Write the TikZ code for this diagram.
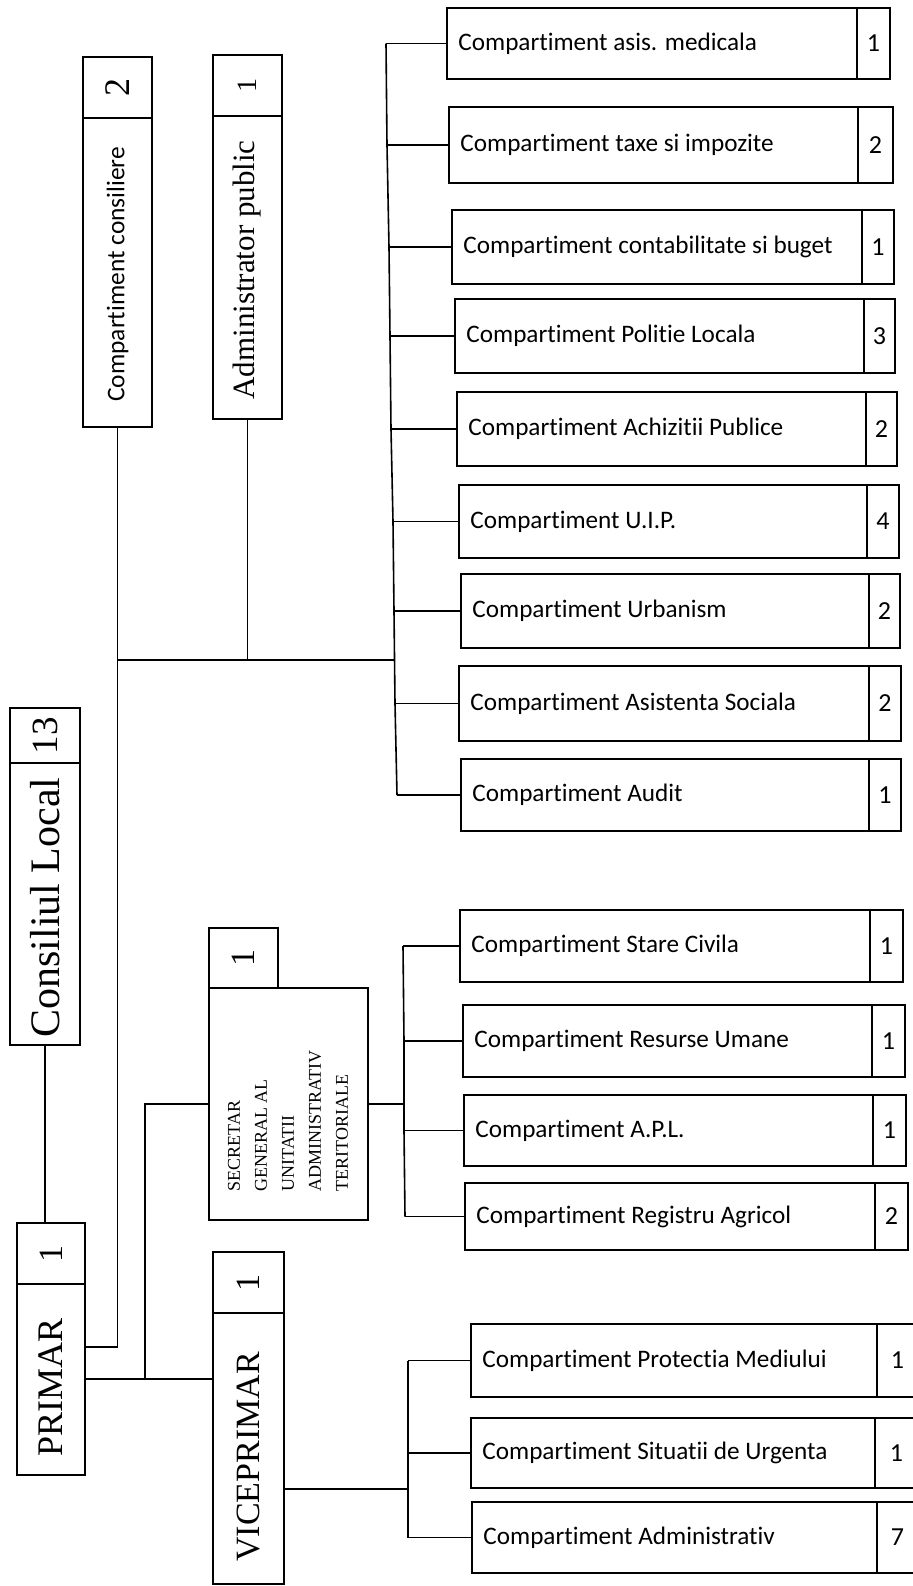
\documentclass[tikz,border=0pt]{standalone}
\usepackage{fontspec}
\setmainfont{Liberation Serif}
\newfontfamily\calib{Carlito}[Ligatures={NoCommon,NoRequired,NoContextual}]
\newcommand\rbox[9]{%
  \pgfmathsetmacro\wa{(#3-#2)*0.5}%
  \pgfmathsetmacro\wb{(#4-#3)*0.5}%
  \pgfmathsetmacro\hh{(#6-#5)*0.5}%
  \pgfmathsetmacro\cy{(#5+#6)/2}%
  \node[boxframe, minimum width=\wa pt, minimum height=\hh pt] (#1) at (#2,#5) {};
  \node[boxframe, minimum width=\wb pt, minimum height=\hh pt, anchor=north west] (#1n) at (#3,#5) {};
  \node[rnum] (#1nt) at (#1n.center) {#8};
  \node[rtext] (#1t) at ([xshift=5.5pt]#1.west) {#7};
  \coordinate (#1j) at (#9,\cy);
  \draw[conn] (#1j) -- (#1.west);
}
\begin{document}
\begin{tikzpicture}[x=0.5pt,y=-0.5pt,
  boxframe/.style={draw, line width=1pt, inner sep=0pt, outer sep=0pt, anchor=north west},
  conn/.style={line width=0.8pt},
  rtext/.style={font=\calib\fontsize{12.6}{15}\selectfont, inner sep=0pt, anchor=west},
  rnum/.style={font=\calib\fontsize{13}{15}\selectfont, inner sep=0pt},
  vtext/.style={rotate=90, anchor=west, inner sep=0pt},
  vnum/.style={rotate=90, inner sep=0pt},
]
\clip (0,0) rectangle (913,1586);
\fill[white] (0,0) rectangle (913,1586);

% ---- vertical boxes ----
% Compartiment consiliere
\node[boxframe, minimum width=34.5pt, minimum height=30.5pt] (consN) at (83,57) {};
\node[boxframe, minimum width=34.5pt, minimum height=154.5pt] (cons) at (83,118) {};
\node[vnum, font=\fontsize{18}{21}\selectfont] (consNt) at (consN.center) {2};
\node[vtext, font=\calib\fontsize{12.7}{15}\selectfont] (consT) at ([yshift=12.5pt]cons.south) {Compartiment consiliere};

% Administrator public
\node[boxframe, minimum width=34.5pt, minimum height=30.5pt] (admN) at (213,55) {};
\node[boxframe, minimum width=34.5pt, minimum height=151.5pt] (adm) at (213,116) {};
\node[vnum, font=\fontsize{14}{17}\selectfont] (admNt) at (admN.center) {1};
\node[vtext, font=\fontsize{15.5}{18}\selectfont] (admT) at ([yshift=9.5pt]adm.south) {Administrator public};

% Consiliul Local
\node[boxframe, minimum width=35pt, minimum height=27.5pt] (clN) at (10,708) {};
\node[boxframe, minimum width=35pt, minimum height=141pt] (cl) at (10,763) {};
\node[vnum, font=\fontsize{18.5}{21}\selectfont] (clNt) at (clN.center) {13};
\node[vtext, font=\fontsize{21}{24}\selectfont] (clT) at ([yshift=3.5pt]cl.south) {Consiliul Local};

% PRIMAR
\node[boxframe, minimum width=34pt, minimum height=30.5pt] (primN) at (17,1223) {};
\node[boxframe, minimum width=34pt, minimum height=95.5pt] (prim) at (17,1284) {};
\node[vnum, font=\fontsize{17}{20}\selectfont] (primNt) at (primN.center) {1};
\node[vtext, font=\fontsize{18}{21}\selectfont] (primT) at ([yshift=9pt]prim.south) {PRIMAR};

% VICEPRIMAR
\node[boxframe, minimum width=35.5pt, minimum height=30.5pt] (viceN) at (213,1252) {};
\node[boxframe, minimum width=35.5pt, minimum height=135.5pt] (vice) at (213,1313) {};
\node[vnum, font=\fontsize{17}{20}\selectfont] (viceNt) at (viceN.center) {1};
\node[vtext, font=\fontsize{17}{20}\selectfont] (viceT) at ([yshift=11pt]vice.south) {VICEPRIMAR};

% SECRETAR
\node[boxframe, minimum width=34.5pt, minimum height=30pt] (secN) at (209,928) {};
\node[boxframe, minimum width=79.5pt, minimum height=116pt] (sec) at (209,988) {};
\node[vnum, font=\fontsize{17}{20}\selectfont] (secNt) at (secN.center) {1};
\node[vnum, align=left, font=\fontsize{9}{13.5}\selectfont] (secT) at (288,1121)
  {SECRETAR\\GENERAL AL\\UNITATII\\ADMINISTRATIV\\TERITORIALE};

% ---- right boxes, group 1 ----
\rbox{a1}{447}{857}{890}{8}{79}{Compartiment asis. medicala}{1}{386}
\rbox{a2}{449}{858}{893}{107}{183}{Compartiment taxe si impozite}{2}{387}
\rbox{a3}{452}{862}{894}{210}{284}{Compartiment contabilitate si buget}{1}{389}
\rbox{a4}{455}{864}{895}{299}{373}{Compartiment Politie Locala}{3}{390}
\rbox{a5}{457}{866}{897}{392}{466}{Compartiment Achizitii Publice}{2}{391}
\rbox{a6}{459}{867}{899}{485}{558}{Compartiment U.I.P.}{4}{393}
\rbox{a7}{461}{869}{900}{574}{648}{Compartiment Urbanism}{2}{394}
\rbox{a8}{459}{869}{901}{666}{741}{Compartiment Asistenta Sociala}{2}{395}
\rbox{a9}{461}{869}{901}{759}{831}{Compartiment Audit}{1}{397}
\draw[conn] (a1j) -- (a2j) -- (a3j) -- (a4j) -- (a5j) -- (a6j) -- (a7j) -- (a8j) -- (a9j);

% ---- group 2 ----
\rbox{b1}{460}{870}{903}{910}{982}{Compartiment Stare Civila}{1}{403}
\rbox{b2}{463}{872}{905}{1005}{1077}{Compartiment Resurse Umane}{1}{404}
\rbox{b3}{464}{873}{906}{1095}{1166}{Compartiment A.P.L.}{1}{404}
\rbox{b4}{465}{875}{908}{1183}{1250}{Compartiment Registru Agricol}{2}{405}
\draw[conn] (b1j) -- (b2j) -- (b3j) -- (b4j);

% ---- group 3 ----
\rbox{c1}{471}{877}{918}{1324}{1397}{Compartiment Protectia Mediului}{1}{408}
\rbox{c2}{471}{875}{918}{1418}{1488}{Compartiment Situatii de Urgenta}{1}{408}
\rbox{c3}{472}{877}{918}{1502}{1573}{Compartiment Administrativ}{7}{408}
\draw[conn] (c1j) -- (c2j) -- (c3j);

% ---- connectors ----
\coordinate (m) at (395,660);
\coordinate (kc) at (0,1347);
\coordinate (kv) at (145,1379);
\coordinate (kvp) at (0,1489);
\draw[conn] (cons.south) -- (cons.south |- kc) -- (prim.east |- kc);
\draw[conn] (cons.south |- m) -- (m);
\draw[conn] (adm.south) -- (adm.south |- m);
\draw[conn] (cl.south) -- (cl.south |- primN.north);
\draw[conn] (prim.east |- kv) -- (vice.west |- kv);
\draw[conn] (kv) -- (kv |- sec.west) -- (sec.west);
\draw[conn] (sec.east) -- (sec.east -| b2j);
\draw[conn] (vice.east |- kvp) -- (c2j |- kvp);
\end{tikzpicture}
\end{document}
